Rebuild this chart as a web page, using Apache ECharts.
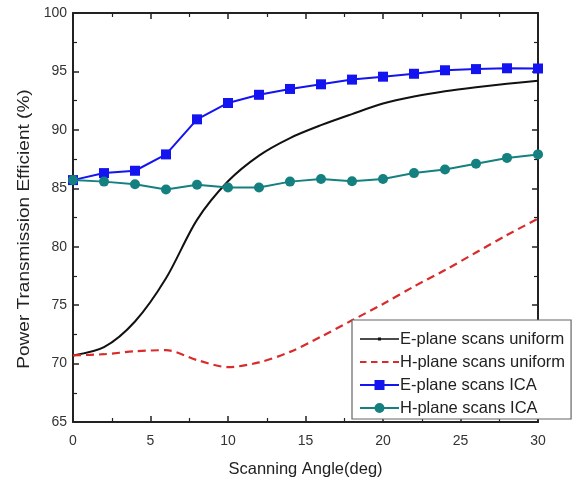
<!DOCTYPE html>
<html>
<head>
<meta charset="utf-8">
<script src="https://cdn.jsdelivr.net/npm/echarts@6/dist/echarts.min.js"></script>
<style>html,body{margin:0;padding:0;background:#fff}#c{width:578px;height:484px}</style>
</head>
<body>
<div id="c"></div>
<script>
var angles = [0, 2, 4, 6, 8, 10, 12, 14, 16, 18, 20, 22, 24, 26, 28, 30];
var eUniform = [70.7, 71.4, 73.6, 77.3, 82.3, 85.6, 87.8, 89.3, 90.4, 91.35, 92.25, 92.85, 93.3, 93.65, 93.95, 94.2];
var hUniform = [70.7, 70.8, 71.05, 71.15, 70.3, 69.7, 70.1, 71.0, 72.3, 73.7, 75.1, 76.6, 78.0, 79.5, 81.0, 82.4];
var eICA = [85.7, 86.3, 86.5, 87.9, 90.9, 92.3, 93.0, 93.5, 93.9, 94.3, 94.55, 94.8, 95.1, 95.2, 95.27, 95.25];
var hICA = [85.7, 85.57, 85.35, 84.9, 85.3, 85.06, 85.06, 85.57, 85.8, 85.6, 85.8, 86.3, 86.6, 87.1, 87.6, 87.9];
var seriesNames = ['E-plane scans uniform', 'H-plane scans uniform', 'E-plane scans ICA', 'H-plane scans ICA'];
var xTitle = 'Scanning Angle(deg)';
var yTitle = 'Power Transmission Efficient (%)';

function pairs(v) { return angles.map(function (a, i) { return [a, v[i]]; }); }

var font = 'Arial, "Liberation Sans", sans-serif';
var axisLine = { show: true, onZero: false, lineStyle: { color: '#222', width: 2 } };
var tick = { show: true, inside: true, length: 6, lineStyle: { color: '#222', width: 1.5 } };
var minor = { show: true, splitNumber: 2, length: 4, lineStyle: { color: '#222', width: 1.2 } };

// legend icons (39 x 14 box)
var box = 'M0,0h0.05v0.05h-0.05z M38.95,13.95h0.05v0.05h-0.05z ';
var lineBar = 'M0,6.1h39v1.8h-39z ';
var iconBlack = 'path://' + box + 'M0,6.2h39v1.6h-39z M18,5.5h3v3h-3z';
var iconRed = 'path://' + box + 'M0,6h6.5v2h-6.5z M11,6h6.5v2h-6.5z M22,6h6.5v2h-6.5z M33,6h6v2h-6z';
var iconBlue = 'path://' + box + lineBar + 'M14.5,2h10v10h-10z';
var iconTeal = 'path://' + box + lineBar + 'M24.5,7a5,5 0 1,1 -10,0a5,5 0 1,1 10,0z';
var icons = [iconBlack, iconRed, iconBlue, iconTeal];

var chart = echarts.init(document.getElementById('c'));
chart.setOption({
  animation: false,
  backgroundColor: '#fff',
  grid: { left: 73, right: 40, top: 13, bottom: 62 },
  legend: {
    orient: 'vertical',
    left: 352, top: 320,
    backgroundColor: '#fff',
    borderColor: '#666', borderWidth: 1.2,
    padding: [9, 6, 1, 8],
    itemWidth: 39, itemHeight: 14, itemGap: 3,
    itemStyle: { borderWidth: 0 },
    textStyle: { fontFamily: font, fontSize: 16.5, lineHeight: 20, color: '#222', padding: [0, 0, 0, -4] },
    data: seriesNames.map(function (n, i) { return { name: n, icon: icons[i] }; })
  },
  graphic: [{
    type: 'text', x: 25, y: 229, rotation: Math.PI / 2, scaleX: 1.19,
    style: { text: yTitle, font: '16px ' + font, fill: '#222', align: 'center', verticalAlign: 'middle' }
  }],
  xAxis: [{
    type: 'value', min: 0, max: 30, interval: 5,
    name: xTitle, nameLocation: 'middle', nameGap: 39,
    nameTextStyle: { fontFamily: font, fontSize: 16.5, color: '#222' },
    axisLine: axisLine, axisTick: tick, minorTick: minor,
    splitLine: { show: false },
    axisLabel: { fontFamily: font, fontSize: 14, color: '#333', margin: 12 }
  }, {
    type: 'value', min: 0, max: 30, interval: 5, position: 'top',
    axisLine: axisLine, axisTick: tick, minorTick: minor,
    splitLine: { show: false }, axisLabel: { show: false }
  }],
  yAxis: [{
    type: 'value', min: 65, max: 100, interval: 5,
    axisLine: axisLine, axisTick: tick, minorTick: minor,
    splitLine: { show: false },
    axisLabel: { fontFamily: font, fontSize: 14, color: '#333', margin: 6 }
  }, {
    type: 'value', min: 65, max: 100, interval: 5, position: 'right',
    axisLine: axisLine, axisTick: tick, minorTick: minor,
    splitLine: { show: false }, axisLabel: { show: false }
  }],
  series: [{
    name: seriesNames[0], type: 'line', data: pairs(eUniform),
    smooth: 0.3, showSymbol: false, symbol: 'circle', symbolSize: 3,
    itemStyle: { color: '#111' },
    lineStyle: { color: '#111', width: 2 }
  }, {
    name: seriesNames[1], type: 'line', data: pairs(hUniform),
    smooth: 0.3, showSymbol: false, symbol: 'none',
    itemStyle: { color: '#d92b2b' },
    lineStyle: { color: '#d92b2b', width: 2.2, type: [8, 5] }
  }, {
    name: seriesNames[2], type: 'line', data: pairs(eICA),
    symbol: 'rect', symbolSize: 10,
    itemStyle: { color: '#1414f0' },
    lineStyle: { color: '#1414f0', width: 2 }
  }, {
    name: seriesNames[3], type: 'line', data: pairs(hICA),
    symbol: 'circle', symbolSize: 10,
    itemStyle: { color: '#14807f' },
    lineStyle: { color: '#14807f', width: 2 }
  }]
});
</script>
</body>
</html>
